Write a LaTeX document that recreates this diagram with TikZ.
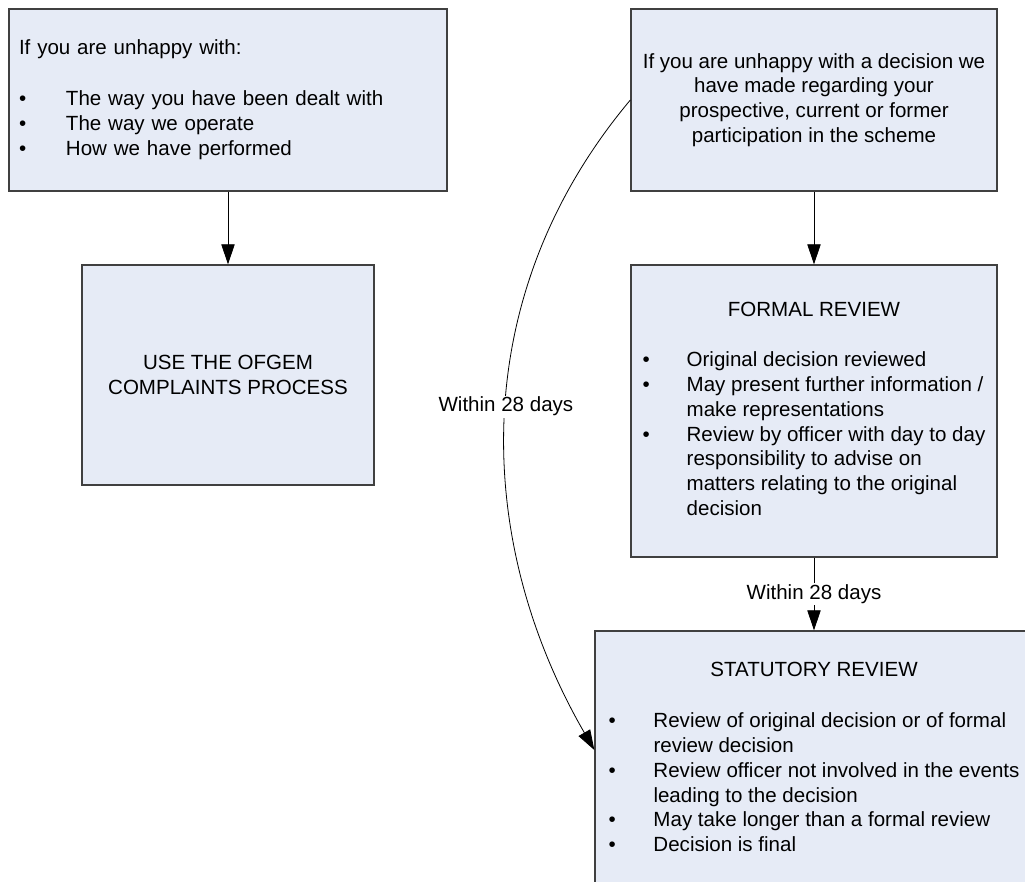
\documentclass[tikz,border=0pt]{standalone}
\usepackage{fontspec}
\setmainfont{Liberation Sans}
\usetikzlibrary{positioning}
\usetikzlibrary{arrows.meta}

\newlength{\pxu}
\setlength{\pxu}{0.75pt}
\definecolor{boxfill}{RGB}{230,235,246}
\definecolor{boxline}{RGB}{64,64,64}
\newcommand{\boxfont}{\fontsize{15.4}{18.6}\selectfont}

\tikzset{
	box/.style = {draw = boxline, fill = boxfill, line width = 1pt, inner sep = 0pt, font = \boxfont},
	flow/.style = {black, line width = 0.6pt, -{Triangle[length = 15pt, width = 10pt]}},
	days/.style = {fill = white, inner sep = 1pt, font = \boxfont}
}

\begin{document}
\begin{tikzpicture}[x = 0.75pt, y = -0.75pt]
	\useasboundingbox (0, 0) rectangle (1025, 882);
	\clip (0, 0) rectangle (1025, 882);
	\node [box, minimum width = 438\pxu, minimum height = 182\pxu, inner xsep = 10\pxu, text width = 418\pxu, align = left] (unhappy) at (228, 100) {\begin{tabular}{@{}p{47\pxu}@{}l@{}}
		\multicolumn{2}{@{}l@{}}{If you are unhappy with:}\\[20pt]
		\textbullet & The way you have been dealt with\\
		\textbullet & The way we operate\\
		\textbullet & How we have performed
	\end{tabular}};
	\node [box, minimum width = 292\pxu, minimum height = 220\pxu, align = center] (ofgem) at (228, 375) {USE THE OFGEM\\COMPLAINTS PROCESS};
	\node [box, minimum width = 366\pxu, minimum height = 182\pxu, align = center] (decision) at (814, 100) {If you are unhappy with a decision we\\have made regarding your\\prospective, current or former\\participation in the scheme};
	\node [box, minimum width = 366\pxu, minimum height = 292\pxu] (formal) at (814, 411) {\begin{tabular}{@{}p{44\pxu}@{}l@{}}
		\multicolumn{2}{@{}c@{}}{FORMAL REVIEW}\\[19pt]
		\textbullet & Original decision reviewed\\
		\textbullet & May present further information /\\
		& make representations\\
		\textbullet & Review by officer with day to day\\
		& responsibility to advise on\\
		& matters relating to the original\\
		& decision
	\end{tabular}};
	\node [box, minimum width = 438\pxu, minimum height = 256\pxu] (statutory) at (814, 759) {\begin{tabular}{@{}p{45\pxu}@{}l@{}}
		\multicolumn{2}{@{}c@{}}{STATUTORY REVIEW}\\[20pt]
		\textbullet & Review of original decision or of formal\\
		& review decision\\
		\textbullet & Review officer not involved in the events\\
		& leading to the decision\\
		\textbullet & May take longer than a formal review\\
		\textbullet & Decision is final
	\end{tabular}};
	\draw [flow] (unhappy) -- (ofgem);
	\draw [flow] (decision) -- (formal);
	\draw [flow] (formal) -- node [days] {Within 28 days} (statutory);
	\draw [flow] (decision.west) .. controls +(-164.5, 196) and +(-120.9, -209.3) .. node [days, pos = 0.48] {Within 28 days} ([yshift = 9\pxu]statutory.west);
\end{tikzpicture}
\end{document}
